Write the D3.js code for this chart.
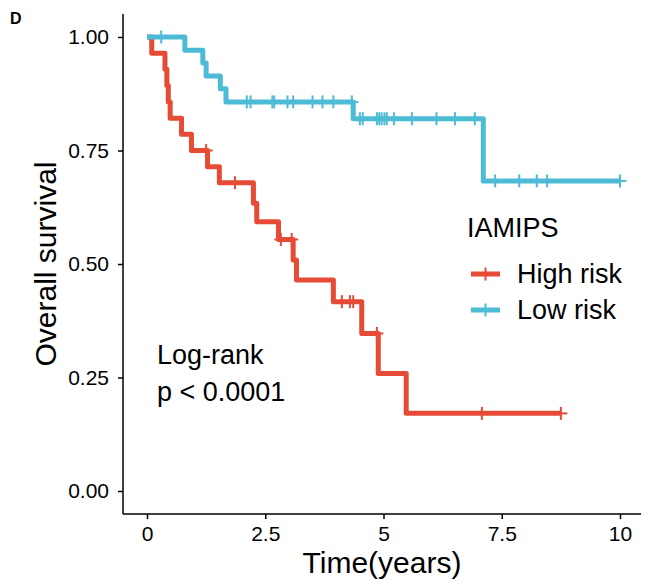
<!DOCTYPE html>
<html>
<head>
<meta charset="utf-8">
<title>IAMIPS overall survival</title>
<script src="https://cdn.jsdelivr.net/npm/d3@7"></script>
<style>
    body { margin: 0; background: #fff; }
    text { font-family: "Liberation Sans", Arial, Helvetica, sans-serif; fill: #000; }
    .curve { fill: none; stroke-width: 5px; stroke-linejoin: round; }
    .censor line { stroke-width: 2px; }
</style>
</head>
<body>
<script>
    // high risk group: event times and survival after each step
    var highTime = [0.10, 0.38, 0.42, 0.45, 0.49, 0.73, 0.94, 1.28, 1.53, 2.25, 2.32, 2.78, 3.09, 3.16, 3.94, 4.54, 4.89, 5.48];
    var highSurv = [0.964, 0.929, 0.893, 0.857, 0.821, 0.786, 0.750, 0.714, 0.679, 0.634, 0.593, 0.554, 0.509, 0.465, 0.417, 0.347, 0.259, 0.171];
    var highCensor = [1.25, 1.86, 2.83, 3.06, 4.12, 4.29, 4.36, 4.86, 7.08, 8.75];

    // low risk group
    var lowTime = [0.80, 1.18, 1.25, 1.55, 1.67, 4.36, 7.11];
    var lowSurv = [0.971, 0.943, 0.914, 0.886, 0.857, 0.820, 0.683];
    var lowCensor = [0.30, 2.11, 2.19, 2.65, 2.69, 2.97, 3.09, 3.50, 3.71, 3.94, 4.33,
                     4.50, 4.56, 4.86, 4.91, 4.96, 5.02, 5.07, 5.22, 5.60, 6.12, 6.51, 6.93,
                     7.36, 7.87, 8.24, 8.46, 10.0];

    var xTicks = [0, 2.5, 5, 7.5, 10];
    var yTicks = [0, 0.25, 0.5, 0.75, 1];

    var groups = [
        { name: "High risk", color: "#E64B35", time: highTime, surv: highSurv, censor: highCensor },
        { name: "Low risk",  color: "#4DBBD5", time: lowTime,  surv: lowSurv,  censor: lowCensor }
    ];

    var width = 653, height = 586;
    var x = d3.scaleLinear().domain([0, 10]).range([147, 620]);
    var y = d3.scaleLinear().domain([0, 1]).range([491, 37]);
    var panelLeft = 123, panelBottom = 514, panelRight = 641, panelTop = 14;

    var svg = d3.select("body").append("svg")
        .attr("width", width)
        .attr("height", height);

    // step function helpers
    function survAt(g, t) {
        var s = 1;
        for (var i = 0; i < g.time.length; i++) {
            if (g.time[i] <= t) s = g.surv[i];
        }
        return s;
    }
    function stepPoints(g) {
        var pts = [[0, 1]];
        g.time.forEach(function (t, i) { pts.push([t, g.surv[i]]); });
        pts.push([d3.max(g.censor.concat(g.time)), g.surv[g.surv.length - 1]]);
        return pts;
    }

    var line = d3.line()
        .x(function (d) { return x(d[0]); })
        .y(function (d) { return y(d[1]); })
        .curve(d3.curveStepAfter);

    groups.forEach(function (g) {
        svg.append("path")
            .attr("class", "curve")
            .attr("stroke", g.color)
            .attr("d", line(stepPoints(g)));

        var marks = svg.append("g").attr("stroke", g.color).attr("class", "censor");
        g.censor.forEach(function (t) {
            var cx = x(t), cy = y(survAt(g, t));
            marks.append("line").attr("x1", cx).attr("x2", cx).attr("y1", cy - 6.5).attr("y2", cy + 6.5);
            marks.append("line").attr("x1", cx - 6.5).attr("x2", cx + 6.5).attr("y1", cy).attr("y2", cy);
        });
    });

    // axes
    var xAxis = d3.axisBottom(x).tickValues(xTicks).tickSize(5).tickPadding(7)
        .tickFormat(d3.format(""));
    var yAxis = d3.axisLeft(y).tickValues(yTicks).tickSize(5).tickPadding(9)
        .tickFormat(d3.format(".2f"));

    var gx = svg.append("g").attr("transform", "translate(0," + panelBottom + ")").call(xAxis);
    var gy = svg.append("g").attr("transform", "translate(" + panelLeft + ",0)").call(yAxis);
    gx.select(".domain").remove();
    gy.select(".domain").remove();
    svg.append("line").attr("x1", panelLeft).attr("x2", panelRight)
        .attr("y1", panelBottom).attr("y2", panelBottom)
        .attr("stroke", "#000").attr("stroke-width", 1.5);
    svg.append("line").attr("x1", panelLeft).attr("x2", panelLeft)
        .attr("y1", panelTop).attr("y2", panelBottom)
        .attr("stroke", "#000").attr("stroke-width", 1.5);
    [gx, gy].forEach(function (a) {
        a.selectAll(".tick line").attr("stroke", "#000").attr("stroke-width", 1.5);
        a.selectAll(".tick text").attr("fill", "#000").style("font-size", "21px");
    });

    svg.append("text").attr("x", 382).attr("y", 573)
        .attr("text-anchor", "middle").style("font-size", "30px")
        .text("Time(years)");
    svg.append("text")
        .attr("transform", "translate(56,264) rotate(-90)")
        .attr("text-anchor", "middle").style("font-size", "30px")
        .text("Overall survival");

    svg.append("text").attr("x", 10).attr("y", 24)
        .style("font-size", "16px").style("font-weight", "bold")
        .text("D");

    // annotation
    svg.append("text").attr("x", 157).attr("y", 364).style("font-size", "27px").text("Log-rank");
    svg.append("text").attr("x", 157).attr("y", 401).style("font-size", "27px").text("p < 0.0001");

    // legend
    var legend = svg.append("g");
    legend.append("text").attr("x", 467).attr("y", 237).style("font-size", "27px").text("IAMIPS");
    groups.forEach(function (g, i) {
        var ly = 274 + i * 36;
        legend.append("line").attr("x1", 471).attr("x2", 500).attr("y1", ly).attr("y2", ly)
            .attr("stroke", g.color).attr("stroke-width", 5);
        legend.append("line").attr("x1", 485.5).attr("x2", 485.5).attr("y1", ly - 6.5).attr("y2", ly + 6.5)
            .attr("stroke", g.color).attr("stroke-width", 2);
        legend.append("text").attr("x", 517).attr("y", ly + 9).style("font-size", "27px").text(g.name);
    });
</script>
</body>
</html>
